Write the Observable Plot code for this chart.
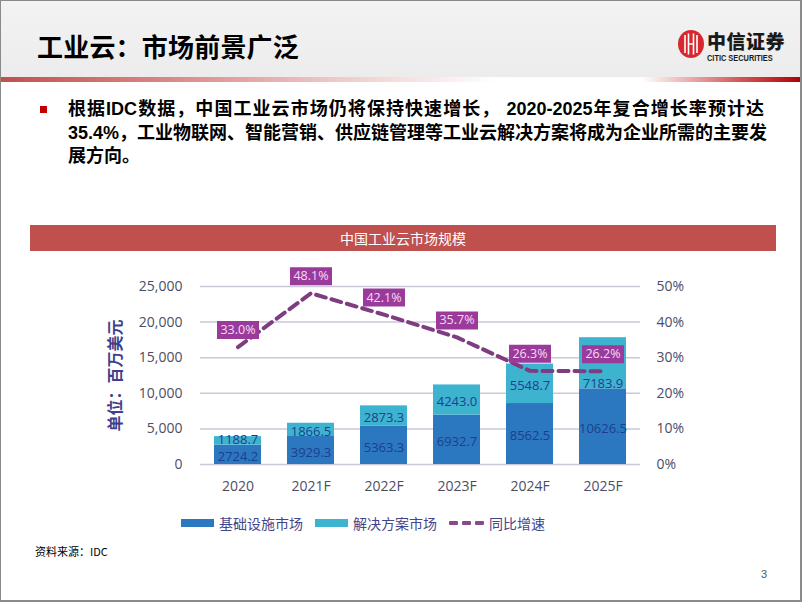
<!DOCTYPE html>
<html><head><meta charset="utf-8">
<script src="https://cdn.jsdelivr.net/npm/d3@7"></script>
<script src="https://cdn.jsdelivr.net/npm/@observablehq/plot@0.6"></script>
<style>
html,body{margin:0;padding:0;}
body{width:802px;height:602px;position:relative;overflow:hidden;background:#fff;font-family:"Noto Sans CJK SC",sans-serif;}
.abs{position:absolute;}
#frame{left:0;top:0;width:802px;height:602px;box-sizing:border-box;border:1px solid #8a8a8a;border-right-width:2px;border-bottom-width:2px;z-index:10;pointer-events:none;}
#hdr{left:0;top:0;width:802px;height:77px;background:linear-gradient(#f3f3f3,#ececec);}
#redline{left:0;top:77px;width:802px;height:5px;background:linear-gradient(to right,#c0504d 0%,#d98583 20%,#f1d2d1 45%,#ffffff 62%,#ffffff 80%,#d25a5a 92%,#b00000 100%);}
#title{left:37px;top:27px;font-size:26px;font-weight:700;color:#000;letter-spacing:0.2px;white-space:nowrap;}
#logoTxt{left:707px;top:31px;font-size:19px;line-height:19px;font-weight:900;color:#1a1a1a;white-space:nowrap;letter-spacing:0.5px;}
#logoEn{left:707px;top:54px;font-family:"Liberation Sans",sans-serif;font-size:8.6px;line-height:9px;font-weight:700;color:#1a1a1a;white-space:nowrap;transform:scaleX(0.86);transform-origin:left top;}
#bullet{left:40px;top:106px;width:7px;height:7px;background:#c00000;}
.bl{left:68px;width:696px;font-family:"Liberation Sans","Noto Sans CJK SC",sans-serif;font-size:18px;font-weight:700;color:#000;line-height:23px;white-space:nowrap;}
.just{text-align:justify;text-align-last:justify;}
#cbar{left:30px;top:225px;width:746px;height:26px;background:#c0504d;color:#fff;font-size:14px;line-height:26px;text-align:center;}
#chart{left:90px;top:255px;}
#legend{left:181px;top:513px;display:flex;align-items:center;font-size:14px;color:#45458a;white-space:nowrap;}
.sw{width:33px;height:8px;margin-right:5px;}
.item{display:flex;align-items:center;margin-right:12px;}
.dash{width:9px;height:4px;background:#8a4a8a;margin-right:4px;border-radius:1px;}
#src{left:35px;top:543px;font-size:11px;color:#000;white-space:nowrap;}
#pg{left:761px;top:568px;font-family:"Liberation Sans",sans-serif;font-size:11px;color:#595959;}
</style></head><body>
<div id="hdr" class="abs"></div>
<div id="redline" class="abs"></div>
<div id="title" class="abs">工业云：市场前景广泛</div>
<svg class="abs" style="left:677px;top:29px" width="28" height="30" viewBox="0 0 28 30">
  <ellipse cx="14" cy="15" rx="13" ry="14" fill="#d7282f"/>
  <path d="M8 6 V24 M11.5 4.5 V25.5 M16.5 4.5 V25.5 M20 6 V24" stroke="#fff" stroke-width="1.6" fill="none"/>
  <path d="M11.5 15 H16.5" stroke="#fff" stroke-width="1.4"/>
</svg>
<div id="logoTxt" class="abs">中信证券</div>
<div id="logoEn" class="abs">CITIC SECURITIES</div>
<div id="bullet" class="abs"></div>
<div class="abs bl just" style="top:98px">根据IDC数据，中国工业云市场仍将保持快速增长， 2020-2025年复合增长率预计达</div>
<div class="abs bl just" style="top:121.5px">35.4%，工业物联网、智能营销、供应链管理等工业云解决方案将成为企业所需的主要发</div>
<div class="abs bl" style="top:145px">展方向。</div>
<div id="cbar" class="abs">中国工业云市场规模</div>
<div id="chart" class="abs"></div>
<div id="legend" class="abs"></div>
<div id="src" class="abs">资料来源：IDC</div>
<div id="pg" class="abs">3</div>
<div id="frame" class="abs"></div>
<script>
const years = ["2020", "2021F", "2022F", "2023F", "2024F", "2025F"];
const infraValues = [2724.2, 3929.3, 5363.3, 6932.7, 8562.5, 10626.5];
const solutionValues = [1188.7, 1866.5, 2873.3, 4243.0, 5548.7, 7183.9];
const growthRates = [33.0, 48.1, 42.1, 35.7, 26.3, 26.2];
const seriesNames = ["基础设施市场", "解决方案市场"];
const lineName = "同比增速";
const leftTicks = [0, 5000, 10000, 15000, 20000, 25000];
const rightTicks = [0, 10, 20, 30, 40, 50];
const yAxisTitle = "单位：百万美元";

const barColors = ["#2b77c0", "#3db3cf"];
const lineColor = "#7e3d80";
const pctScale = 25000 / 50; // right axis 50% aligns with 25,000
const labelGap = 1500;       // keep segment labels clear of the growth-rate boxes
const minLabelSep = 2350;    // keep the two segment labels of a bar apart

const table = [
  ...years.map((year, i) => ({year, series: seriesNames[0], value: infraValues[i],
    labelY: infraValues[i] / 2})),
  ...years.map((year, i) => ({year, series: seriesNames[1], value: solutionValues[i],
    labelY: Math.min(Math.max(infraValues[i] + solutionValues[i] / 2, infraValues[i] / 2 + minLabelSep),
                     growthRates[i] * pctScale - labelGap)}))
];
const growth = years.map((year, i) => ({year, rate: growthRates[i]}));

const boxSymbol = {draw(ctx) { ctx.rect(-21, -9, 42, 18); }};

const chart = Plot.plot({
  width: 620,
  height: 255,
  marginLeft: 110,
  marginRight: 70,
  marginTop: 31,
  marginBottom: 46,
  style: {fontFamily: "'Open Sans', 'Noto Sans CJK SC', sans-serif", fontSize: "14px", color: "#4d4d66", background: "transparent", overflow: "visible"},
  x: {domain: years, paddingInner: 0.36, paddingOuter: 0.18, label: null},
  y: {domain: [0, 25000], label: null},
  color: {domain: seriesNames, range: barColors},
  marks: [
    Plot.gridY(leftTicks, {stroke: "#c9c9d9", strokeOpacity: 1, strokeWidth: 1.5}),
    Plot.axisY(leftTicks, {anchor: "left", tickSize: 0, tickPadding: 18, tickFormat: d3.format(","), fontSize: 14, fill: "#4d4d66", label: null}),
    Plot.axisY(rightTicks.map(v => v * pctScale), {anchor: "right", tickSize: 0, tickPadding: 16, tickFormat: d => `${d / pctScale}%`, fontSize: 14, fill: "#4d4d66", label: null}),
    Plot.axisX({tickSize: 0, tickPadding: 17, fontSize: 14, fill: "#4d4d66", label: null}),
    Plot.barY(table, {x: "year", y: "value", fill: "series"}),
    Plot.text(table, {x: "year", y: "labelY", text: d => d.value.toFixed(1), fill: "#1d3f8f", fontSize: 13, dy: 2}),
    Plot.line(growth, {x: "year", y: d => d.rate * pctScale, stroke: lineColor, strokeWidth: 4, strokeDasharray: "10,6"}),
    Plot.dot(growth, {x: "year", y: d => d.rate * pctScale, symbol: boxSymbol, r: 3, fill: "#9a3b9b", stroke: null, dy: -17}),
    Plot.text(growth, {x: "year", y: d => d.rate * pctScale, text: d => `${d.rate.toFixed(1)}%`, fill: "#f6dcf6", fontSize: 12.5, dy: -17}),
    Plot.text([yAxisTitle], {text: d => d, frameAnchor: "left", textAnchor: "middle", rotate: -90, dx: -85, fontSize: 16, fontWeight: "bold", fill: "#3f3f8c"})
  ]
});
document.getElementById("chart").appendChild(chart);

const legend = document.getElementById("legend");
seriesNames.forEach((name, i) => {
  const it = document.createElement("div");
  it.className = "item";
  it.innerHTML = `<div class="sw" style="background:${barColors[i]}"></div><span>${name}</span>`;
  legend.appendChild(it);
});
const li = document.createElement("div");
li.className = "item";
li.innerHTML = `<div class="dash"></div><div class="dash"></div><div class="dash"></div><span style="margin-left:1px">${lineName}</span>`;
legend.appendChild(li);
</script>
</body></html>
